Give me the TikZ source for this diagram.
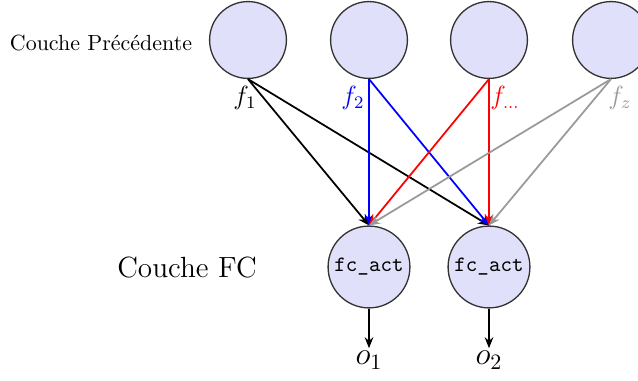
\documentclass[tikz,border=0pt]{standalone}
\usepackage{tikz}
\usetikzlibrary{positioning,arrows.meta}
\definecolor{neurfill}{RGB}{224,224,250}
\tikzset{
  prevnode/.style={draw=black!80,fill=neurfill,circle,semithick,minimum size=1.23cm,inner sep=0pt},
  fcnode/.style={draw=black!80,fill=neurfill,circle,semithick,minimum size=1.31cm,inner sep=0pt,font=\ttfamily},
  flabel/.style={font=\large,inner sep=1pt},
  arr/.style={-{Stealth[length=5pt,width=4pt]},thick},
}
\begin{document}
\begin{tikzpicture}[x=0.016cm,y=0.016cm]
        \useasboundingbox (0,0) rectangle (638,-381);
        % couche precedente
        \node[prevnode] (p1) at (248,-40) {};
        \node[prevnode] (p2) at (369,-40) {};
        \node[prevnode] (p3) at (489,-40) {};
        \node[prevnode] (p4) at (611,-40) {};
        \node (lprev) at (101,-43) {Couche Précédente};
        \node[flabel] (f1) at (245,-98) {$f_1$};
        \node[flabel,blue] (f2) at (353,-98) {$f_2$};
        \node[flabel,red] (f3) at (505,-98) {$f_{\dots}$};
        \node[flabel,gray!80] (f4) at (620,-98) {$f_z$};
        % couche FC
        \node[fcnode] (c1) at (369,-267) {fc\_act};
        \node[fcnode] (c2) at (489,-267) {fc\_act};
        \node[font=\fontsize{13.3}{16}\selectfont] (lfc) at (187,-268) {Couche FC};
        \node[font=\Large,inner sep=1pt] (o1) at (369,-360) {$o_1$};
        \node[font=\Large,inner sep=1pt] (o2) at (489,-360) {$o_2$};
        \foreach \a/\c in {p1/black,p2/blue,p3/red,p4/gray!80}
          \foreach \b in {c1,c2}
            \draw[arr,\c] (\a.south) -- (\b.north);
        \foreach \a/\b in {c1/o1,c2/o2}
          \draw[-{Stealth[length=5pt,width=4pt]},semithick] (\a) -- (\b);
      \end{tikzpicture}
\end{document}
